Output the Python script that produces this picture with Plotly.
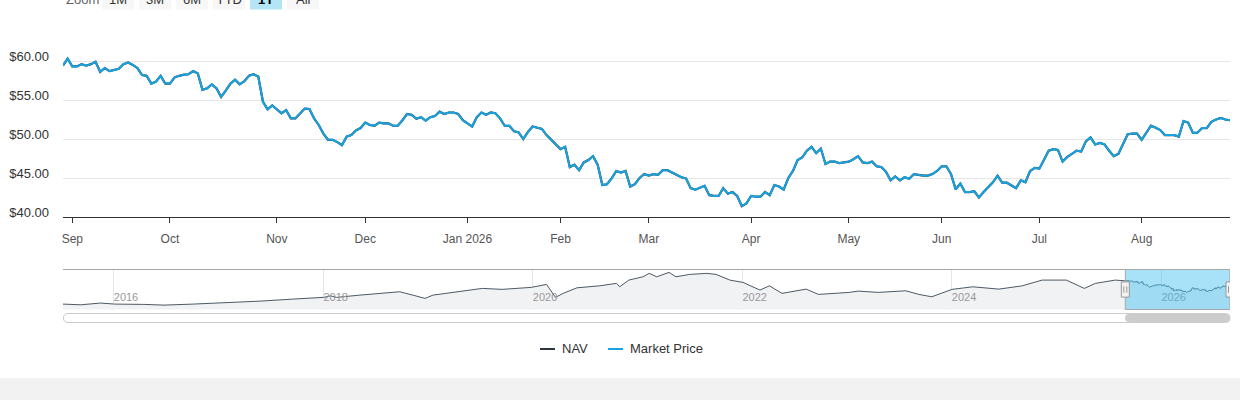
import pandas as pd
import plotly.graph_objects as go

# 1Y window, daily closes
market_price = [
    59.4, 60.3, 59.3, 59.3, 59.6, 59.4, 59.6, 59.9, 58.6, 59.1,
    58.7, 58.9, 59.0, 59.6, 59.8, 59.5, 59.1, 58.2, 58.1, 57.1,
    57.35, 58.1, 57.1, 57.1, 57.9, 58.1, 58.25, 58.3, 58.7, 58.4,
    56.3, 56.5, 57.0, 56.5, 55.4, 56.2, 57.1, 57.6, 57.0, 57.4,
    58.1, 58.3, 58.0, 54.8, 53.8, 54.3, 53.8, 53.3, 53.7, 52.65,
    52.65, 53.3, 53.9, 53.85, 52.65, 51.8, 50.7, 49.9, 49.9, 49.6,
    49.2, 50.3, 50.5, 51.1, 51.4, 52.1, 51.8, 51.7, 52.1, 52.0,
    52.0, 51.7, 51.7, 52.4, 53.2, 53.1, 52.6, 52.8, 52.35, 52.8,
    52.95, 53.5, 53.2, 53.4, 53.4, 53.2, 52.4, 52.0, 51.6, 52.8,
    53.4, 53.1, 53.4, 53.3, 52.65, 51.7, 51.7, 51.0, 50.85, 50.0,
    50.9, 51.6, 51.45, 51.3, 50.5, 49.9, 49.35, 48.7, 49.0, 46.4,
    46.7, 46.0, 47.0, 47.3, 47.8, 46.7, 44.1, 44.2, 44.95, 45.9,
    45.7, 45.9, 43.9, 44.2, 45.0, 45.5, 45.3, 45.5, 45.4, 46.0,
    46.0, 45.7, 45.5, 45.1, 44.95, 43.7, 43.5, 43.8, 44.0, 42.8,
    42.7, 42.7, 43.7, 43.0, 43.2, 42.7, 41.4, 41.75, 42.7, 42.6,
    42.6, 43.2, 42.8, 44.1, 43.9, 43.5, 45.0, 45.9, 47.3, 47.65,
    48.5, 49.0, 48.2, 48.75, 46.8, 47.1, 47.1, 46.9, 47.0, 47.1,
    47.4, 47.8, 47.0, 46.9, 47.1, 46.5, 46.4, 45.8, 44.7, 45.2,
    44.7, 45.1, 44.9, 45.5, 45.4, 45.3, 45.3, 45.5, 45.9, 46.5,
    46.5, 45.5, 43.55, 44.3, 43.2, 43.2, 43.3, 42.5, 43.2, 43.8,
    44.45, 45.3, 44.4, 44.4, 44.0, 43.7, 44.7, 44.45, 45.9, 46.3,
    46.2, 47.4, 48.5, 48.7, 48.6, 47.1, 47.7, 48.1, 48.5, 48.4,
    49.7, 50.2, 49.3, 49.5, 49.3, 48.5, 47.8, 48.1, 49.4, 50.6,
    50.7, 50.7, 49.9, 50.8, 51.7, 51.45, 51.15, 50.5, 50.5, 50.5,
    50.3, 52.3, 52.1, 50.8, 50.8, 51.4, 51.4, 52.2, 52.5, 52.7,
    52.5, 52.4,
]
# NAV sits right under the market price line, no gap visible at this scale
nav = list(market_price)

last_day = "2026-08-28"
us_holidays = ["2025-09-01", "2025-11-27", "2025-12-25", "2026-01-01", "2026-01-19",
               "2026-02-16", "2026-04-03", "2026-05-25", "2026-06-19", "2026-07-03"]
days = pd.bdate_range(end=last_day, periods=len(market_price), freq="C", holidays=us_holidays)

# navigator: NAV history before the 1Y window
hist_dates = [
    "2015-07-08", "2015-09-08", "2015-11-16", "2016-01-04", "2016-04-15", "2016-06-24",
    "2016-10-04", "2017-02-03", "2017-05-26", "2017-09-15", "2018-01-02", "2018-01-26",
    "2018-02-16", "2018-05-08", "2018-07-16", "2018-09-24", "2018-11-09", "2018-12-21",
    "2019-01-18", "2019-03-18", "2019-04-19", "2019-07-09", "2019-09-16", "2019-12-27",
    "2020-02-18", "2020-03-20", "2020-04-16", "2020-06-03", "2020-08-21", "2020-10-19",
    "2020-10-30", "2020-12-01", "2021-01-19", "2021-02-10", "2021-03-08", "2021-04-20",
    "2021-05-14", "2021-07-01", "2021-08-30", "2021-10-01", "2021-11-18", "2022-01-03",
    "2022-03-03", "2022-04-05", "2022-05-19", "2022-08-11", "2022-09-23", "2022-11-23",
    "2023-01-09", "2023-02-09", "2023-04-20", "2023-07-24", "2023-09-08", "2023-10-23",
    "2024-01-02", "2024-03-14", "2024-06-13", "2024-09-03", "2024-11-11", "2025-02-03",
    "2025-04-07", "2025-05-16", "2025-07-24",
]
hist_nav = [
    23.4, 22.3, 25.0, 23.4, 22.9, 21.8,
    23.4, 25.4, 28.0, 31.1, 33.8, 36.2,
    33.8, 37.3, 40.0, 42.5, 37.3, 32.2,
    37.3, 40.9, 42.5, 47.7, 46.2, 49.3,
    53.9, 33.8, 40.0, 48.6, 51.7, 55.5,
    50.2, 60.6, 65.7, 71.0, 65.7, 72.5,
    65.7, 69.4, 71.0, 69.4, 60.6, 57.0,
    45.1, 51.7, 40.0, 46.6, 38.4, 40.0,
    41.5, 43.5, 41.5, 44.0, 38.4, 34.7,
    46.2, 50.2, 46.6, 51.7, 60.6, 60.6,
    47.7, 55.5, 60.6,
]

month_ticks = ["2025-09-02", "2025-10-01", "2025-11-03", "2025-12-01", "2026-01-02", "2026-02-02",
               "2026-03-02", "2026-04-01", "2026-05-01", "2026-06-01", "2026-07-01", "2026-08-03"]
month_labels = ["Sep", "Oct", "Nov", "Dec", "Jan 2026", "Feb",
                "Mar", "Apr", "May", "Jun", "Jul", "Aug"]
price_ticks = [40, 45, 50, 55, 60, 65]
price_labels = ["$40.00", "$45.00", "$50.00", "$55.00", "$60.00", ""]
year_ticks = ["2016-01-01", "2018-01-01", "2020-01-01", "2022-01-01", "2024-01-01", "2026-01-01"]
year_labels = ["2016", "2018", "2020", "2022", "2024", "2026"]
zoom_buttons = ["1M", "3M", "6M", "YTD", "1Y", "All"]
series_names = ["NAV", "Market Price"]

NAV_COLOR = "#2c3640"
MKT_COLOR = "#17a3df"
FONT = "Liberation Sans, Arial, sans-serif"
W, H = 1240, 400


def px(x):
    return x / W


def py(y):
    return 1 - y / H


def rounded(x0, y0, x1, y1, r):
    # rounded rectangle path, pixel corners -> paper coords
    pts = [("M", x0 + r, y0), ("L", x1 - r, y0), ("Q", x1, y0, x1, y0 + r),
           ("L", x1, y1 - r), ("Q", x1, y1, x1 - r, y1), ("L", x0 + r, y1),
           ("Q", x0, y1, x0, y1 - r), ("L", x0, y0 + r), ("Q", x0, y0, x0 + r, y0)]
    out = ""
    for p in pts:
        cmd, nums = p[0], p[1:]
        coords = []
        for i in range(0, len(nums), 2):
            coords.append("%.5f,%.5f" % (px(nums[i]), py(nums[i + 1])))
        out += cmd + " " + " ".join(coords) + " "
    return out + "Z"


fig = go.Figure()

fig.add_trace(go.Scatter(x=days, y=nav, name="NAV", mode="lines",
                         line=dict(color=NAV_COLOR, width=2.2), hoverinfo="skip"))
fig.add_trace(go.Scatter(x=days, y=market_price, name="Market Price", mode="lines",
                         line=dict(color=MKT_COLOR, width=2)))

# navigator series
nav_x = [pd.Timestamp(d) for d in hist_dates] + list(days)
nav_y = hist_nav + nav
fig.add_trace(go.Scatter(x=nav_x, y=nav_y, xaxis="x2", yaxis="y2", mode="lines",
                         line=dict(color="#4d5963", width=1), fill="tozeroy",
                         fillcolor="#f1f2f4", hoverinfo="skip"))

shapes = []
# page footer band
shapes.append(dict(type="rect", xref="paper", yref="paper", x0=0, x1=1, y0=0, y1=py(378),
                   fillcolor="#f2f2f2", line=dict(width=0), layer="below"))
# navigator top outline
shapes.append(dict(type="line", xref="x2 domain", yref="y2 domain", x0=0, x1=1, y0=1, y1=1,
                   line=dict(color="#a8a8a8", width=1)))
# selected window
shapes.append(dict(type="rect", xref="x2", yref="y2 domain", x0=days[0], x1=days[-1], y0=0, y1=1,
                   fillcolor="rgba(60,190,240,0.45)", line=dict(color="#a8a8a8", width=1)))
for d in (days[0], days[-1]):
    shapes.append(dict(type="rect", xref="x2", yref="y2 domain", xsizemode="pixel", xanchor=d,
                       x0=-4, x1=4, y0=0.31, y1=0.69, fillcolor="#f2f2f2",
                       line=dict(color="#999999", width=1)))
    for off in (-1.5, 1.5):
        shapes.append(dict(type="line", xref="x2", yref="y2 domain", xsizemode="pixel", xanchor=d,
                           x0=off, x1=off, y0=0.42, y1=0.58, line=dict(color="#999999", width=1)))
# scrollbar
shapes.append(dict(type="path", xref="paper", yref="paper", path=rounded(63.5, 313.5, 1230, 322.5, 4.5),
                   fillcolor="#ffffff", line=dict(color="#cccccc", width=1)))
shapes.append(dict(type="path", xref="paper", yref="paper", path=rounded(1125, 314, 1230, 322, 4),
                   fillcolor="#cccccc", line=dict(width=0)))

annotations = []
# range selector (cut off at the top of the page)
annotations.append(dict(xref="paper", yref="paper", x=px(64), y=py(-1), text="Zoom",
                        xanchor="left", yanchor="middle", showarrow=False,
                        font=dict(family=FONT, size=13, color="#666666")))
for i, b in enumerate(zoom_buttons):
    left = 102 + i * 37
    selected = b == "1Y"
    shapes.append(dict(type="rect", xref="paper", yref="paper", x0=px(left), x1=px(left + 32),
                       y0=py(9.5), y1=py(-14), fillcolor="#b3e5f7" if selected else "#f7f7f7",
                       line=dict(width=0)))
    annotations.append(dict(xref="paper", yref="paper", x=px(left + 16), y=py(-1),
                            text="<b>%s</b>" % b if selected else b,
                            xanchor="center", yanchor="middle", showarrow=False,
                            font=dict(family=FONT, size=13, color="#000000" if selected else "#333333")))

# legend
for name, color, sx in zip(series_names, [NAV_COLOR, MKT_COLOR], [540, 608]):
    shapes.append(dict(type="line", xref="paper", yref="paper", x0=px(sx), x1=px(sx + 15),
                       y0=py(349), y1=py(349), line=dict(color=color, width=2)))
    annotations.append(dict(xref="paper", yref="paper", x=px(sx + 20), y=py(348.5), text=name,
                            xanchor="left", yanchor="middle", showarrow=False,
                            font=dict(family=FONT, size=13, color="#333333")))

fig.update_layout(
    width=W, height=H, autosize=False,
    margin=dict(l=0, r=0, t=0, b=0),
    paper_bgcolor="white", plot_bgcolor="white",
    showlegend=False, hovermode="x unified",
    font=dict(family=FONT, size=12, color="#333333"),
    shapes=shapes, annotations=annotations,
    xaxis=dict(
        type="date", domain=[px(63), px(1230)], anchor="y",
        range=[days[0], days[-1]],
        rangebreaks=[dict(bounds=["sat", "mon"]), dict(values=us_holidays)],
        tickvals=month_ticks, ticktext=month_labels,
        ticks="outside", ticklen=5, tickcolor="#333333",
        showline=True, linecolor="#333333", linewidth=1,
        showgrid=False, zeroline=False, automargin=False,
        tickfont=dict(family=FONT, size=12, color="#555555"), ticklabelstandoff=6,
    ),
    yaxis=dict(
        domain=[py(217), py(22)], anchor="x", range=[40, 65],
        tickvals=price_ticks, ticktext=price_labels,
        showgrid=True, gridcolor="#e6e6e6", gridwidth=1, zeroline=False,
        showline=False, ticks="", automargin=False,
        tickfont=dict(family=FONT, size=13, color="#333333"),
        ticklabelstandoff=13, ticklabelshift=-5,
    ),
    xaxis2=dict(
        type="date", domain=[px(63), px(1230)], anchor="y2",
        range=[hist_dates[0], last_day],
        tickvals=year_ticks, ticktext=year_labels,
        showgrid=True, gridcolor="#e6e6e6", ticks="", zeroline=False, showline=False,
        ticklabelposition="inside right", automargin=False,
        tickfont=dict(family=FONT, size=11, color="#999999"),
    ),
    yaxis2=dict(domain=[py(309.5), py(269.5)], anchor="x2", range=[15, 77], visible=False),
)

# the page body has an 8px default margin; drop it so the figure fills the window
fig.write_html("out.html", config={"displayModeBar": False},
               post_script="document.body.style.margin = '0';")
